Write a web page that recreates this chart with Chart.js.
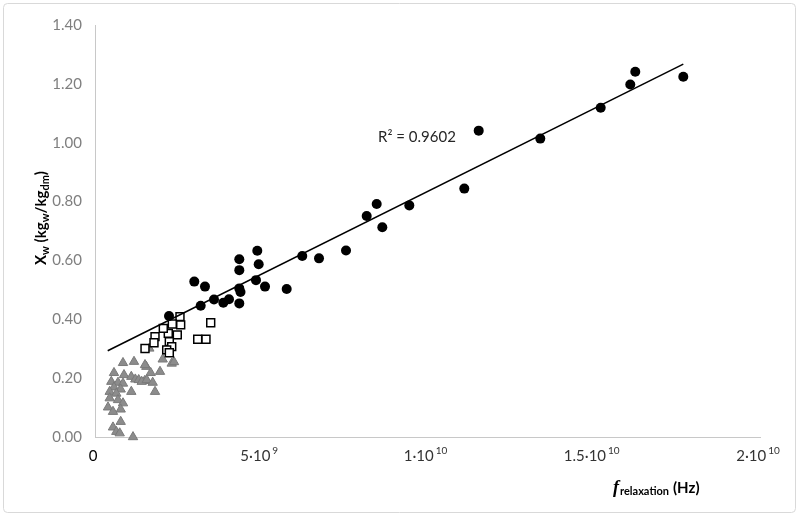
<!DOCTYPE html>
<html>
<head>
<meta charset="utf-8">
<script src="https://cdn.jsdelivr.net/npm/chart.js@4"></script>
<style>
html,body{margin:0;padding:0;background:#fff;}
#wrap{width:799px;height:518px;position:relative;}
</style>
</head>
<body>
<div id="wrap"><canvas id="c"></canvas></div>
<script>
// ---- data (x in Hz, y = Xw in kg_w/kg_dm) ----
const circleX = [2.226e9,2.986e9,3.308e9,4.340e9,4.881e9,4.340e9,4.923e9,6.234e9,6.737e9,4.842e9,5.113e9,5.765e9,4.340e9,4.376e9,4.030e9,3.859e9,3.579e9,3.179e9,4.340e9,7.549e9,8.171e9,8.472e9,8.641e9,9.453e9,11.107e9,11.540e9,13.392e9,15.209e9,16.099e9,16.249e9,17.693e9];
const circleY = [0.411,0.528,0.511,0.604,0.633,0.567,0.587,0.615,0.607,0.533,0.511,0.503,0.505,0.493,0.468,0.456,0.467,0.446,0.454,0.634,0.751,0.792,0.713,0.787,0.844,1.041,1.014,1.119,1.198,1.241,1.224];

const squareX = [2.556e9,2.577e9,2.325e9,3.480e9,2.204e9,2.475e9,1.805e9,1.774e9,1.504e9,3.089e9,3.338e9,2.235e9,2.307e9,2.156e9,2.235e9,2.054e9];
const squareY = [0.409,0.381,0.384,0.388,0.352,0.347,0.341,0.320,0.301,0.332,0.332,0.324,0.307,0.296,0.286,0.369];

const triangleX = [0.842e9,1.173e9,1.543e9,0.571e9,0.872e9,1.092e9,1.212e9,1.314e9,1.495e9,0.490e9,0.692e9,0.842e9,0.571e9,0.773e9,1.092e9,0.442e9,0.641e9,0.442e9,0.692e9,0.842e9,0.391e9,0.773e9,0.541e9,0.541e9,0.773e9,0.641e9,0.743e9,1.143e9,2.036e9,2.307e9,1.675e9,1.955e9,1.404e9,1.555e9,1.735e9,1.805e9,1.633e9,2.376e9,1.504e9];
const triangleY = [0.252,0.256,0.239,0.218,0.211,0.205,0.196,0.194,0.191,0.188,0.185,0.182,0.169,0.162,0.154,0.154,0.148,0.132,0.126,0.115,0.101,0.094,0.086,0.033,0.052,0.018,0.013,0.000,0.264,0.250,0.218,0.222,0.188,0.194,0.185,0.154,0.301,0.255,0.245];

const trendX = [0.382e9, 17.693e9];
const trendY = [0.293, 1.267];
const r2Label = "R\u00B2 = 0.9602";

const yTicks = [0,0.2,0.4,0.6,0.8,1.0,1.2,1.4];
const xTickValues = [0, 5e9, 1e10, 1.5e10, 2e10];
const xTickMantissa = ["0", "5\u00B710", "1\u00B710", "1.5\u00B710", "2\u00B710"];
const xTickExponent = ["", "9", "10", "10", "10"];

const FONT = "Lato, 'Open Sans', 'Liberation Sans', sans-serif";

function pts(xs, ys){ return xs.map((x,i)=>({x:x, y:ys[i]})); }

const decor = {
  id:'decor',
  beforeDraw(chart){
    const ctx = chart.ctx;
    ctx.save();
    ctx.fillStyle = '#ffffff';
    ctx.fillRect(0,0,chart.width,chart.height);
    ctx.strokeStyle = '#d9d9d9';
    ctx.lineWidth = 1;
    ctx.beginPath();
    if (ctx.roundRect) ctx.roundRect(3.5,3.5,792,509,4); else ctx.rect(3.5,3.5,792,509);
    ctx.stroke();
    ctx.restore();
  },
  afterDraw(chart){
    const ctx = chart.ctx;
    const xs = chart.scales.x;
    ctx.save();
    ctx.textBaseline = 'alphabetic';
    xTickValues.forEach((v,i)=>{
      const px = xs.getPixelForValue(v);
      ctx.font = '15px ' + FONT;
      const w1 = ctx.measureText(xTickMantissa[i]).width;
      ctx.font = '10px ' + FONT;
      const w2 = xTickExponent[i] ? ctx.measureText(xTickExponent[i]).width + 2 : 0;
      const start = px - (w1 + w2)/2 - 2;
      ctx.fillStyle = i === 0 ? '#000000' : '#333333';
      ctx.font = '15px ' + FONT;
      ctx.textAlign = 'left';
      ctx.fillText(xTickMantissa[i], start, 461);
      if (xTickExponent[i]) {
        ctx.font = '10px ' + FONT;
        ctx.fillText(xTickExponent[i], start + w1 + 2, 454);
      }
    });
    // x axis title
    let x = 613, base = 493;
    ctx.fillStyle = '#000';
    ctx.font = 'italic bold 18px "Liberation Serif", "DejaVu Serif", serif';
    ctx.fillText('f', x, base);
    x += ctx.measureText('f').width + 1;
    ctx.font = 'bold 11px ' + FONT;
    ctx.fillText('relaxation', x, base + 2);
    x += ctx.measureText('relaxation').width + 4;
    ctx.font = 'bold 15px ' + FONT;
    ctx.fillText('(Hz)', x, base);
    // y axis title (rotated, with subscripts)
    const parts = [['X',0],['w',1],[' (kg',0],['w',1],['/kg',0],['dm',1],[')',0]];
    const fMain = 'bold 15px ' + FONT, fSub = 'bold 11px ' + FONT;
    let total = 0;
    parts.forEach(p=>{ ctx.font = p[1]?fSub:fMain; total += ctx.measureText(p[0]).width; });
    ctx.translate(46, 218);
    ctx.rotate(-Math.PI/2);
    let cx = -total/2;
    parts.forEach(p=>{
      ctx.font = p[1]?fSub:fMain;
      ctx.fillText(p[0], cx, p[1] ? 3 : 0);
      cx += ctx.measureText(p[0]).width;
    });
    ctx.restore();
    // R^2 label
    ctx.save();
    ctx.font = '15px ' + FONT;
    ctx.fillStyle = '#262626';
    ctx.textAlign = 'center';
    ctx.textBaseline = 'middle';
    ctx.fillText(r2Label, 417, 137);
    ctx.restore();
  }
};

new Chart(document.getElementById('c'), {
  type: 'scatter',
  data: {
    datasets: [
      { label:'trend', type:'line', data: pts(trendX, trendY), borderColor:'#000', borderWidth:1.5, pointRadius:0, fill:false, order:0, clip:false },
      { label:'circles', data: pts(circleX, circleY), pointStyle:'circle', pointRadius:5, backgroundColor:'#000', borderColor:'#000', borderWidth:0, order:1, clip:false },
      { label:'squares', data: pts(squareX, squareY), pointStyle:'rect', pointRadius:5.6, backgroundColor:'#fff', borderColor:'#000', borderWidth:1.5, order:2, clip:false },
      { label:'triangles', data: pts(triangleX, triangleY), pointStyle:'triangle', pointRadius:5.4, backgroundColor:'#8c8c8c', borderColor:'#7a7a7a', borderWidth:1, order:3, clip:false }
    ]
  },
  options: {
    responsive:true,
    maintainAspectRatio:false,
    animation:false,
    events:[],
    layout:{ padding:{ top:25, right:39, bottom:0, left:0 } },
    plugins:{ legend:{display:false}, tooltip:{enabled:false} },
    scales:{
      x:{
        type:'linear', min:0, max:2e10,
        grid:{ display:false, drawTicks:false },
        border:{ display:true, color:'#c8c8c8', width:1 },
        ticks:{ display:false },
        afterFit(s){ s.height = 81; }
      },
      y:{
        type:'linear', min:0, max:1.4,
        afterBuildTicks(s){ s.ticks = yTicks.map(v=>({value:v})); },
        grid:{ display:false, drawTicks:false },
        border:{ display:true, color:'#c8c8c8', width:1 },
        ticks:{ padding:13, color:'#7f7f7f', font:{ size:15, family:FONT }, callback:(v)=>Number(v).toFixed(2) },
        afterFit(s){ s.width = 95; }
      }
    }
  },
  plugins:[decor]
});
</script>
</body>
</html>
